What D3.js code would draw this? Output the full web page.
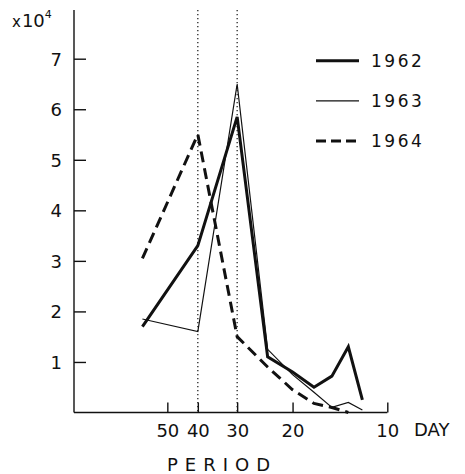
<!DOCTYPE html>
<html>
<head>
<meta charset="utf-8">
<script src="https://cdn.jsdelivr.net/npm/d3@7"></script>
<style>
  body { margin: 0; background: #fff; }
  text { font-family: "DejaVu Sans", sans-serif; fill: #111; }
</style>
</head>
<body>
<div id="chart"></div>
<script>
// periods (days) of the spectral estimates
const periods = [60, 40, 30, 24, 20, 17.1, 15, 13.3, 12];
const s1962 = [1.7, 3.3, 5.85, 1.1, 0.8, 0.5, 0.72, 1.3, 0.25];
const s1963 = [1.85, 1.6, 6.5, 1.25, 0.75, 0.4, 0.1, 0.2, 0.05];
const s1964 = [3.05, 5.5, 1.5, 0.9, 0.45, 0.18, 0.1, 0];
const yTicks = [1, 2, 3, 4, 5, 6, 7];
const xTicks = [50, 40, 30, 20, 10];
const markers = [40, 30];

const svgWidth = 465;
const svgHeight = 474;

const svg = d3.select("#chart")
    .append("svg")
    .attr("width", svgWidth)
    .attr("height", svgHeight);

const xScale = d3.scaleLog()
    .domain([100, 10])
    .range([72.6, 387.3]);

const yScale = d3.scaleLinear()
    .domain([0, 7])
    .range([412.5, 58.7]);

// dotted lines at 40 and 30 days
svg.selectAll(".marker")
    .data(markers)
    .enter().append("line")
    .attr("x1", d => xScale(d))
    .attr("x2", d => xScale(d))
    .attr("y1", 10)
    .attr("y2", yScale(0))
    .attr("stroke", "#111")
    .attr("stroke-width", 1.2)
    .attr("stroke-dasharray", "1.2,2.8");

// y axis
svg.append("line")
    .attr("x1", 74).attr("x2", 74)
    .attr("y1", 10).attr("y2", yScale(0))
    .attr("stroke", "#111").attr("stroke-width", 1.4);

const yAxis = svg.append("g")
    .attr("transform", "translate(74,0)")
    .call(d3.axisRight(yScale).tickValues(yTicks).tickSize(12).tickFormat(d3.format("d")));
yAxis.select(".domain").remove();
yAxis.selectAll("line").attr("stroke", "#111").attr("stroke-width", 1.4);
yAxis.selectAll("text")
    .attr("x", -12)
    .attr("dy", "0.36em")
    .attr("text-anchor", "end")
    .style("font-size", "18px")
    .style("font-family", "DejaVu Sans, sans-serif");

// x axis
const xAxis = svg.append("g")
    .attr("transform", "translate(0," + yScale(0) + ")")
    .call(d3.axisTop(xScale).tickValues(xTicks).tickSize(10).tickSizeOuter(0).tickFormat(d3.format("d")));
xAxis.select(".domain").attr("stroke", "#111").attr("stroke-width", 1.4)
    .attr("d", "M74,0H" + xScale(10));
xAxis.selectAll("line").attr("stroke", "#111").attr("stroke-width", 1.4);
xAxis.selectAll("text")
    .attr("y", 24)
    .attr("dy", 0)
    .style("font-size", "18px")
    .style("font-family", "DejaVu Sans, sans-serif");

svg.append("text")
    .attr("x", 414)
    .attr("y", 436)
    .style("font-size", "18px")
    .text("DAY");

svg.append("text")
    .attr("x", 167)
    .attr("y", 471)
    .style("font-size", "18px")
    .style("letter-spacing", "7px")
    .text("PERIOD");

// scale factor label
const expo = svg.append("text")
    .attr("x", 12)
    .attr("y", 27);
expo.append("tspan").style("font-size", "15px").text("x");
expo.append("tspan").style("font-size", "18px").attr("dx", 1).text("10");
expo.append("tspan").style("font-size", "11px").attr("dy", -9).text("4");

// series
const series = [
    { name: "1962", values: s1962, width: 3, dash: null },
    { name: "1963", values: s1963, width: 1.2, dash: null },
    { name: "1964", values: s1964, width: 3, dash: "11,6" }
];

const line = d3.line()
    .x(d => xScale(d[0]))
    .y(d => yScale(d[1]));

series.forEach(function (s) {
    svg.append("path")
        .datum(s.values.map((v, i) => [periods[i], v]))
        .attr("d", line)
        .attr("fill", "none")
        .attr("stroke", "#111")
        .attr("stroke-width", s.width)
        .attr("stroke-linejoin", "miter")
        .attr("stroke-dasharray", s.dash);
});

// legend
const legend = svg.selectAll(".legend")
    .data(series)
    .enter().append("g")
    .attr("transform", (d, i) => "translate(316," + (60.7 + i * 40.2) + ")");

legend.append("line")
    .attr("x1", 0).attr("x2", 43)
    .attr("y1", 0).attr("y2", 0)
    .attr("stroke", "#111")
    .attr("stroke-width", d => d.width)
    .attr("stroke-dasharray", d => d.dash ? "10,5" : null);

legend.append("text")
    .attr("x", 55)
    .attr("y", 0)
    .attr("dy", "0.36em")
    .style("font-size", "17px")
    .style("letter-spacing", "2.5px")
    .text(d => d.name);
</script>
</body>
</html>
